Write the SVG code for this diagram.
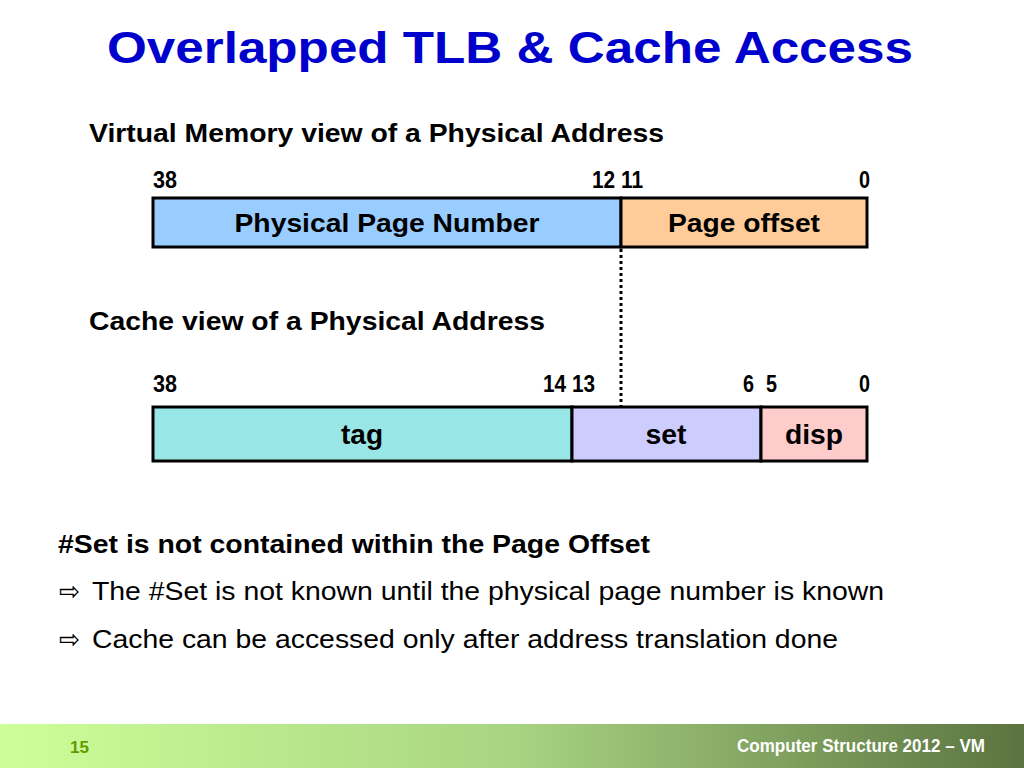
<svg xmlns="http://www.w3.org/2000/svg" width="1024" height="768" viewBox="0 0 1024 768">
<defs>
<linearGradient id="foot" x1="0" y1="0" x2="1" y2="0">
<stop offset="0" stop-color="#ccff99"/>
<stop offset="0.5" stop-color="#a9d482"/>
<stop offset="1" stop-color="#5b7340"/>
</linearGradient>
<style>
.t{font-family:"Liberation Sans",Arial,sans-serif;}
.b{font-weight:bold;}
.num{font-family:"Liberation Sans Narrow","Liberation Sans",sans-serif;font-weight:bold;font-size:23px;fill:#000;}
.lbl{font-family:"Liberation Sans",Arial,sans-serif;font-weight:bold;font-size:25px;fill:#000;text-anchor:middle;}
.big{font-size:28px;}
.box{stroke:#000;stroke-width:3;}
.arr{font-family:"DejaVu Sans",sans-serif;font-size:26px;fill:#000;}
</style>
</defs>
<rect width="1024" height="768" fill="#fff"/>
<text class="t b" x="510" y="63" font-size="45" fill="#0000cc" text-anchor="middle" textLength="806" lengthAdjust="spacingAndGlyphs">Overlapped TLB &amp; Cache Access</text>
<text class="t b" x="89" y="142" font-size="25" fill="#000" textLength="575" lengthAdjust="spacingAndGlyphs">Virtual Memory view of a Physical Address</text>
<text class="t b" x="89" y="330" font-size="25" fill="#000" textLength="456" lengthAdjust="spacingAndGlyphs">Cache view of a Physical Address</text>
<g id="va-numbers">
<text class="num" x="153" y="188" textLength="24" lengthAdjust="spacingAndGlyphs">38</text>
<text class="num" x="592" y="188" textLength="51" lengthAdjust="spacingAndGlyphs">12 11</text>
<text class="num" x="859" y="188" textLength="11" lengthAdjust="spacingAndGlyphs">0</text>
</g>
<g id="ppn">
<rect class="box" x="153" y="198" width="468" height="49" fill="#99ccff"/>
<text class="lbl" x="387" y="232" textLength="305" lengthAdjust="spacingAndGlyphs">Physical Page Number</text>
</g>
<g id="page-offset">
<rect class="box" x="621" y="198" width="246" height="49" fill="#ffcc99"/>
<text class="lbl" x="744" y="232" textLength="152" lengthAdjust="spacingAndGlyphs">Page offset</text>
</g>
<g id="connectors">
<line x1="621" y1="249" x2="621" y2="410" stroke="#000" stroke-width="3" stroke-dasharray="3,3"/>
</g>
<g id="ca-numbers">
<text class="num" x="153" y="392" textLength="24" lengthAdjust="spacingAndGlyphs">38</text>
<text class="num" x="543" y="392" textLength="52" lengthAdjust="spacingAndGlyphs">14 13</text>
<text class="num" x="743" y="392" textLength="11" lengthAdjust="spacingAndGlyphs">6</text>
<text class="num" x="766" y="392" textLength="11" lengthAdjust="spacingAndGlyphs">5</text>
<text class="num" x="859" y="392" textLength="11" lengthAdjust="spacingAndGlyphs">0</text>
</g>
<g id="tag">
<rect class="box" x="153" y="407" width="419" height="54" fill="#99e6e6"/>
<text class="lbl big" x="362" y="444" textLength="42" lengthAdjust="spacingAndGlyphs">tag</text>
</g>
<g id="set">
<rect class="box" x="572" y="407" width="189" height="54" fill="#ccccff"/>
<text class="lbl big" x="666" y="444" textLength="41" lengthAdjust="spacingAndGlyphs">set</text>
</g>
<g id="disp">
<rect class="box" x="761" y="407" width="106" height="54" fill="#ffcccc"/>
<text class="lbl big" x="814" y="444" textLength="58" lengthAdjust="spacingAndGlyphs">disp</text>
</g>
<text class="t b" x="58" y="553" font-size="25" fill="#000" textLength="592" lengthAdjust="spacingAndGlyphs">#Set is not contained within the Page Offset</text>
<text class="arr" x="59" y="600" textLength="21" lengthAdjust="spacingAndGlyphs">⇨</text>
<text class="t" x="92" y="600" font-size="25" fill="#000" textLength="792" lengthAdjust="spacingAndGlyphs">The #Set is not known until the physical page number is known</text>
<text class="arr" x="59" y="648" textLength="21" lengthAdjust="spacingAndGlyphs">⇨</text>
<text class="t" x="92" y="648" font-size="25" fill="#000" textLength="746" lengthAdjust="spacingAndGlyphs">Cache can be accessed only after address translation done</text>
<rect x="0" y="724" width="1024" height="44" fill="url(#foot)"/>
<text class="t b" x="70" y="753" font-size="17" fill="#669900" textLength="19" lengthAdjust="spacingAndGlyphs">15</text>
<text class="t b" x="737" y="752" font-size="18" fill="#fff" textLength="248" lengthAdjust="spacingAndGlyphs">Computer Structure 2012 – VM</text>
</svg>
